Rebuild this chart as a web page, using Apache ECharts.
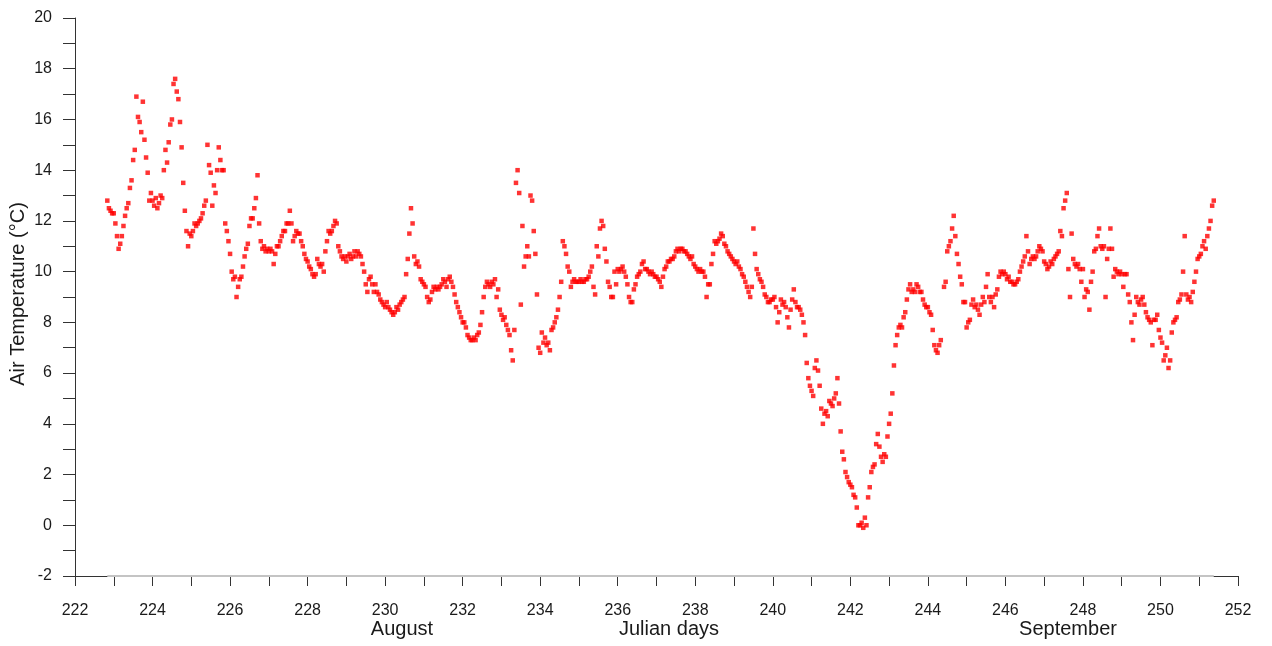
<!DOCTYPE html>
<html>
<head>
<meta charset="utf-8">
<title>Air Temperature</title>
<script src="https://cdn.jsdelivr.net/npm/echarts@6/dist/echarts.min.js"></script>
<style>
  html, body { margin: 0; padding: 0; background: #ffffff; }
  #chart { width: 1272px; height: 646px; }
</style>
</head>
<body>
<div id="chart"></div>
<script>
// Hourly air temperature (°C), one array per Julian day.
// Every day starts at hour 0, except day 222 whose record begins at hour 20.
const day222 = [12.8, 12.5, 12.4, 12.3];
const day223 = [12.3, 11.9, 11.4, 10.9, 11.1, 11.4, 11.8, 12.2, 12.5, 12.7, 13.3, 13.6, 14.4, 14.8, 16.9, 16.1, 15.9, 15.5, 16.7, 15.2, 14.5, 13.9, 12.8, 13.1];
const day224 = [12.8, 12.6, 12.9, 12.5, 12.7, 13.0, 12.9, 14.0, 14.8, 14.3, 15.1, 15.8, 16.0, 17.4, 17.6, 17.1, 16.8, 15.9, 14.9, 13.5, 12.4, 11.6, 11.0, 11.5];
const day225 = [11.4, 11.6, 11.9, 11.8, 11.9, 12.0, 12.1, 12.3, 12.6, 12.8, 15.0, 14.2, 13.9, 12.6, 13.4, 13.1, 14.0, 14.9, 14.4, 14.0, 14.0, 11.9, 11.6, 11.2];
const day226 = [10.7, 10.0, 9.7, 9.8, 9.0, 9.4, 9.7, 9.8, 10.2, 10.6, 10.9, 11.1, 11.8, 12.1, 12.1, 12.5, 12.9, 13.8, 11.9, 11.2, 10.9, 11.0, 10.8, 10.9];
const day227 = [10.8, 10.9, 10.8, 10.3, 10.7, 11.0, 11.0, 11.2, 11.4, 11.6, 11.6, 11.9, 11.9, 12.4, 11.9, 11.2, 11.4, 11.6, 11.5, 11.5, 11.2, 11.0, 10.7, 10.5];
const day228 = [10.4, 10.2, 10.1, 9.9, 9.8, 9.9, 10.5, 10.3, 10.2, 10.3, 10.0, 10.8, 11.2, 11.6, 11.5, 11.6, 11.8, 12.0, 11.9, 11.0, 10.8, 10.6, 10.5, 10.6];
const day229 = [10.4, 10.6, 10.7, 10.5, 10.6, 10.8, 10.6, 10.8, 10.7, 10.6, 10.3, 10.0, 9.5, 9.2, 9.7, 9.8, 9.5, 9.2, 9.5, 9.2, 9.1, 8.9, 8.8, 8.7];
const day230 = [8.6, 8.8, 8.6, 8.5, 8.4, 8.3, 8.4, 8.6, 8.5, 8.7, 8.8, 8.9, 9.0, 9.9, 10.5, 11.5, 12.5, 11.9, 10.6, 10.3, 10.4, 10.2, 9.7, 9.6];
const day231 = [9.5, 9.4, 9.0, 8.8, 8.9, 9.2, 9.4, 9.3, 9.4, 9.3, 9.4, 9.5, 9.7, 9.6, 9.4, 9.7, 9.8, 9.6, 9.4, 9.1, 8.8, 8.6, 8.4, 8.2];
const day232 = [8.0, 8.0, 7.8, 7.5, 7.4, 7.3, 7.3, 7.4, 7.3, 7.5, 7.6, 7.9, 8.4, 9.0, 9.4, 9.6, 9.5, 9.4, 9.6, 9.5, 9.7, 9.0, 9.3, 8.5];
const day233 = [8.3, 8.1, 8.2, 7.9, 7.7, 7.5, 6.9, 6.5, 7.7, 13.5, 14.0, 13.1, 8.7, 11.8, 10.2, 10.6, 11.0, 10.6, 13.0, 12.8, 11.6, 10.7, 9.1, 7.0];
const day234 = [6.8, 7.6, 7.2, 7.4, 7.1, 7.2, 6.9, 7.7, 7.8, 8.0, 8.2, 8.5, 9.0, 9.6, 11.2, 11.0, 10.7, 10.2, 10.0, 9.4, 9.6, 9.7, 9.6, 9.6];
const day235 = [9.6, 9.7, 9.6, 9.6, 9.7, 9.7, 9.8, 10.0, 10.2, 9.4, 9.1, 11.0, 10.6, 11.7, 12.0, 11.8, 10.9, 10.4, 9.6, 9.4, 9.0, 9.0, 10.0, 9.5];
const day236 = [10.1, 10.0, 10.1, 10.2, 10.0, 9.8, 9.5, 9.0, 8.8, 8.8, 9.3, 9.5, 9.8, 9.9, 10.0, 10.3, 10.4, 10.1, 10.1, 10.0, 9.9, 10.0, 9.9, 9.8];
const day237 = [9.8, 9.7, 9.6, 9.4, 9.8, 10.1, 10.2, 10.4, 10.4, 10.5, 10.5, 10.6, 10.8, 10.9, 10.8, 10.9, 10.9, 10.8, 10.8, 10.7, 10.6, 10.5, 10.6, 10.3];
const day238 = [10.2, 10.1, 10.0, 10.1, 10.0, 10.0, 9.8, 9.0, 9.5, 9.5, 10.3, 10.7, 11.2, 11.1, 11.2, 11.3, 11.5, 11.4, 11.1, 11.0, 10.8, 10.7, 10.6, 10.5];
const day239 = [10.4, 10.3, 10.4, 10.2, 10.1, 9.9, 9.8, 9.6, 9.4, 9.2, 9.0, 9.4, 11.7, 10.7, 10.1, 9.9, 9.7, 9.6, 9.4, 9.1, 9.0, 8.8, 8.8, 8.9];
const day240 = [8.9, 9.0, 8.6, 8.0, 8.4, 8.9, 8.7, 8.8, 8.6, 8.2, 7.8, 8.5, 8.9, 9.3, 8.8, 8.6, 8.6, 8.5, 8.3, 8.0, 7.5, 6.4, 5.8, 5.5];
const day241 = [5.3, 5.1, 6.2, 6.5, 6.1, 5.5, 4.6, 4.0, 4.4, 4.5, 4.3, 4.9, 4.8, 4.7, 5.0, 5.2, 5.8, 4.8, 3.7, 2.9, 2.6, 2.1, 1.9, 1.7];
const day242 = [1.6, 1.5, 1.2, 1.1, 0.7, 0.0, 0.0, 0.1, -0.1, 0.3, 0.0, 1.1, 1.5, 2.1, 2.3, 2.4, 3.2, 3.6, 3.1, 2.7, 2.5, 2.8, 2.7, 3.5];
const day243 = [4.0, 4.4, 5.2, 6.3, 7.1, 7.5, 7.8, 7.9, 7.8, 8.2, 8.4, 8.9, 9.3, 9.5, 9.2, 9.3, 9.2, 9.5, 9.4, 9.2, 9.2, 8.9, 8.7, 8.6];
const day244 = [8.6, 8.4, 8.3, 7.7, 7.1, 6.9, 6.8, 7.1, 7.3, null, 9.4, 9.6, 10.8, 11.0, 11.2, 11.7, 12.2, 11.4, 10.7, 10.3, 9.8, 9.5, 8.8, 8.8];
const day245 = [7.8, 8.0, 8.1, 8.7, 8.9, 8.6, 8.7, 8.5, 8.3, 8.7, 9.0, 8.8, 9.4, 9.9, 9.0, 8.8, 9.0, 8.6, 9.1, 9.3, 9.8, 10.0, 9.9, 10.0];
const day246 = [9.9, 9.7, 9.8, 9.6, 9.6, 9.5, 9.5, 9.6, 9.7, 10.0, 10.2, 10.4, 10.6, 11.4, 10.8, 10.3, 10.5, 10.6, 10.5, 10.6, 10.8, 11.0, 10.9, 10.8];
const day247 = [10.4, 10.3, 10.1, 10.2, 10.4, 10.3, 10.5, 10.6, 10.7, 10.8, 11.6, 11.4, 12.5, 12.8, 13.1, 10.1, 9.0, 11.5, 10.5, 10.3, 10.2, 10.3, 10.1, 9.6];
const day248 = [10.1, 9.0, 9.3, 9.2, 8.5, 9.6, 10.0, 10.8, 10.9, 11.4, 11.7, 11.0, 10.9, 11.0, 9.0, 10.5, 10.9, 11.7, 10.9, 9.8, 10.1, 10.0, 9.9, 10.0];
const day249 = [9.9, 9.4, 9.9, 9.9, 9.1, 8.8, 8.0, 7.3, 8.3, 9.0, 8.8, 8.7, 8.9, 9.0, 8.7, 8.4, 8.2, 8.1, 8.0, 7.1, 8.1, 8.1, 8.3, 7.7];
const day250 = [7.4, 7.2, 6.5, 6.7, 7.0, 6.2, 6.5, 7.6, 8.0, 8.1, 8.2, 8.8, 8.9, 9.1, 10.0, 11.4, 9.1, 8.9, 9.0, 8.8, 9.2, 9.6, 10.0, 10.5];
const day251 = [10.6, 10.7, 11.0, 11.2, 10.9, 11.4, 11.7, 12.0, 12.6, 12.8];

const dailyRecords = [
  [222, 20, day222], [223, 0, day223], [224, 0, day224], [225, 0, day225],
  [226, 0, day226], [227, 0, day227], [228, 0, day228], [229, 0, day229],
  [230, 0, day230], [231, 0, day231], [232, 0, day232], [233, 0, day233],
  [234, 0, day234], [235, 0, day235], [236, 0, day236], [237, 0, day237],
  [238, 0, day238], [239, 0, day239], [240, 0, day240], [241, 0, day241],
  [242, 0, day242], [243, 0, day243], [244, 0, day244], [245, 0, day245],
  [246, 0, day246], [247, 0, day247], [248, 0, day248], [249, 0, day249],
  [250, 0, day250], [251, 0, day251]
];

// Axis extents and tick step
const xTicks = { min: 222, max: 252, step: 2 };
const yTicks = { min: -2, max: 20, step: 2 };

// Text under the time axis and along the value axis
const axisTitle = 'Julian days';
const monthNames = ['August', 'September'];
const yTitle = 'Air Temperature (°C)';

// Build [julian day, temperature] pairs
const points = [];
dailyRecords.forEach(([day, startHour, values]) => {
  values.forEach((v, i) => {
    if (v === null) return;
    points.push([day + (startHour + i) / 24, v]);
  });
});
const firstX = points[0][0];
const lastX = points[points.length - 1][0];

const FONT = "'Liberation Sans', Arial, sans-serif";
const INK = '#1a1a1a';
const AXIS = '#333333';

const chart = echarts.init(document.getElementById('chart'), null, { renderer: 'canvas' });

const titleStyle = { fill: INK, font: '20px ' + FONT, textAlign: 'center', textVerticalAlign: 'middle' };

chart.setOption({
  backgroundColor: '#ffffff',
  animation: false,
  grid: { left: 75, right: 34, top: 18, bottom: 70, containLabel: false, outerBoundsMode: 'none' },
  xAxis: {
    type: 'value',
    min: xTicks.min,
    max: xTicks.max,
    interval: xTicks.step,
    axisLine: { show: true, onZero: false, lineStyle: { color: AXIS, width: 1 } },
    axisTick: { show: true, inside: false, length: 10, lineStyle: { color: AXIS, width: 1 } },
    minorTick: { show: true, splitNumber: 2, length: 10, lineStyle: { color: AXIS, width: 1 } },
    axisLabel: { color: INK, fontFamily: FONT, fontSize: 16, margin: 27 },
    splitLine: { show: false },
    minorSplitLine: { show: false }
  },
  yAxis: {
    type: 'value',
    min: yTicks.min,
    max: yTicks.max,
    interval: yTicks.step,
    axisLine: { show: true, onZero: false, lineStyle: { color: AXIS, width: 1 } },
    axisTick: { show: true, inside: false, length: 12, lineStyle: { color: AXIS, width: 1 } },
    minorTick: { show: true, splitNumber: 2, length: 12, lineStyle: { color: AXIS, width: 1 } },
    axisLabel: { color: INK, fontFamily: FONT, fontSize: 16, margin: 23 },
    splitLine: { show: false },
    minorSplitLine: { show: false }
  },
  graphic: [
    { type: 'text', x: 18, y: 294, rotation: Math.PI / 2, style: Object.assign({ text: yTitle }, titleStyle) },
    { type: 'text', x: 402, y: 629, style: Object.assign({ text: monthNames[0] }, titleStyle) },
    { type: 'text', x: 669, y: 629, style: Object.assign({ text: axisTitle }, titleStyle) },
    { type: 'text', x: 1068, y: 629, style: Object.assign({ text: monthNames[1] }, titleStyle) }
  ],
  series: [
    {
      // light baseline spanning the recorded period
      type: 'line',
      data: [[firstX, yTicks.min], [lastX, yTicks.min]],
      showSymbol: false,
      clip: false,
      silent: true,
      z: 3,
      lineStyle: { color: '#c4c4c4', width: 2 }
    },
    {
      type: 'scatter',
      data: points,
      symbol: 'rect',
      symbolSize: 4.5,
      itemStyle: { color: '#ff0000' },
      z: 4
    }
  ]
});
</script>
</body>
</html>
